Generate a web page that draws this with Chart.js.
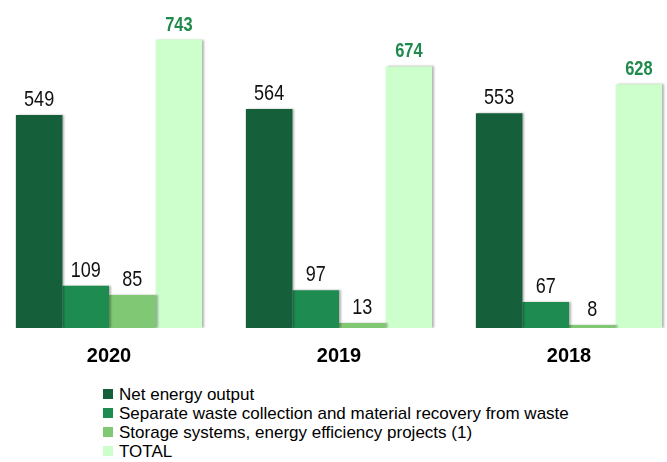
<!DOCTYPE html>
<html>
<head>
<meta charset="utf-8">
<script src="https://cdn.jsdelivr.net/npm/chart.js@4"></script>
<style>
  html, body { margin: 0; padding: 0; background: #fff; overflow: hidden; }
  #wrap { position: absolute; left: -6px; top: 0; width: 690px; height: 376px; }
  #legenda { position: absolute; left: 103px; top: 385px; font-family: 'Liberation Sans', Arial, sans-serif; font-size: 17px; line-height: 19px; color: #000; }
  #legenda .sq { display: inline-block; width: 10px; height: 10px; margin-right: 6px; vertical-align: 1px; }
</style>
</head>
<body>
<div id="wrap"><canvas id="myChart"></canvas></div>
<div id="legenda"></div>
<script>
var anos = ['2020', '2019', '2018'];
var energiaLiquida = [549, 564, 553];
var coletaSeletiva = [109, 97, 67];
var armazenamento = [85, 13, 8];
var total = [743, 674, 628];

var nomes = ['Net energy output', 'Separate waste collection and material recovery from waste',
    'Storage systems, energy efficiency projects (1)', 'TOTAL'];
var cores = ['#15603a', '#1e8c50', '#80c874', '#ccffcc'];

// sombra leve nas barras
var sombra = {
    id: 'sombra',
    beforeDatasetsDraw: function(chart){
        var c = chart.ctx;
        c.save();
        c.shadowColor = 'rgba(0,0,0,0.3)';
        c.shadowOffsetX = 2;
        c.shadowOffsetY = 0;
        c.shadowBlur = 2;
    },
    afterDatasetsDraw: function(chart){
        chart.ctx.restore();
    }
};

// rotulos em cima das barras (fonte "estreita" = escala horizontal)
var rotulos = {
    id: 'rotulos',
    afterDatasetsDraw: function(chart){
        var c = chart.ctx;
        chart.data.datasets.forEach(function(ds, i){
            var meta = chart.getDatasetMeta(i);
            meta.data.forEach(function(bar, j){
                c.save();
                c.textAlign = 'center';
                c.textBaseline = 'alphabetic';
                if (i == 3) {
                    c.font = 'bold 20px "Liberation Sans", Arial, sans-serif';
                    c.fillStyle = '#1f8a4c';
                } else {
                    c.font = '22px "Liberation Sans", Arial, sans-serif';
                    c.fillStyle = '#111';
                }
                c.translate(bar.x, bar.y - 9);
                c.scale(0.82, 1);
                c.fillText(ds.data[j], 0, 0);
                c.restore();
            });
        });
    }
};

var ctx = document.getElementById('myChart');
var myChart = new Chart(ctx, {
    type: 'bar',
    data: {
        labels: anos,
        datasets: [
            { label: nomes[0], data: energiaLiquida, backgroundColor: cores[0] },
            { label: nomes[1], data: coletaSeletiva, backgroundColor: cores[1] },
            { label: nomes[2], data: armazenamento, backgroundColor: cores[2] },
            { label: nomes[3], data: total, backgroundColor: cores[3] }
        ]
    },
    options: {
        responsive: true,
        maintainAspectRatio: false,
        animation: false,
        layout: { padding: 0 },
        categoryPercentage: 0.81,
        barPercentage: 1.0,
        plugins: {
            legend: { display: false },
            tooltip: { enabled: false }
        },
        scales: {
            x: {
                grid: { display: false },
                border: { display: false },
                ticks: {
                    padding: 8,
                    color: '#000',
                    font: { family: '"Liberation Sans", Arial, sans-serif', size: 20, weight: 'bold' }
                }
            },
            y: {
                display: false,
                min: 0,
                max: 845
            }
        }
    },
    plugins: [sombra, rotulos]
});

var html = '';
for (var i = 0; i < nomes.length; i++) {
    html += '<div><span class="sq" style="background:' + cores[i] + '"></span>' + nomes[i] + '</div>';
}
document.getElementById('legenda').innerHTML = html;
</script>
</body>
</html>
